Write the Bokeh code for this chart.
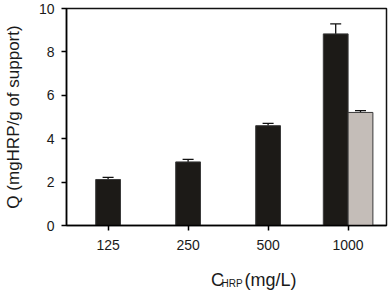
import numpy as np
from bokeh.plotting import figure
from bokeh.layouts import column
from bokeh.models import Range1d, FixedTicker, Whisker, ColumnDataSource, TeeHead
from bokeh.core.properties import value
from bokeh.embed import file_html
from bokeh.resources import INLINE

# ---- data ----
categories = ["125", "250", "500", "1000"]
series_a = [2.12, 2.93, 4.60, 8.83]
series_a_err = [0.10, 0.12, 0.11, 0.46]
series_b = [None, None, None, 5.21]
series_b_err = [None, None, None, 0.08]
y_ticks = [0, 2, 4, 6, 8, 10]
y_label = "Q (mgHRP/g of support)"
x_label_main = "C"
x_label_sub = "HRP"
x_label_unit = "(mg/L)"

FONT = "Liberation Sans"
BAR_W = 0.31
W = 392
H_MAIN = 262
H_LABEL = 28

idx = np.arange(len(categories))
has_b = np.array([v is not None for v in series_b])
off_a = np.where(has_b, -BAR_W / 2, 0.0)

src_a = ColumnDataSource(dict(
    x=idx + off_a,
    top=series_a,
    upper=np.array(series_a) + np.array(series_a_err),
))
b_idx = idx[has_b]
b_vals = np.array([series_b[i] for i in b_idx], dtype=float)
b_errs = np.array([series_b_err[i] for i in b_idx], dtype=float)
src_b = ColumnDataSource(dict(
    x=b_idx + BAR_W / 2,
    top=b_vals,
    upper=b_vals + b_errs,
))

p = figure(width=W, height=H_MAIN, output_backend="svg", toolbar_location=None,
           x_range=Range1d(-0.52, 3.48), y_range=Range1d(0, 10),
           min_border_left=62, min_border_right=6, min_border_top=8, min_border_bottom=37)
p.background_fill_color = "white"
p.border_fill_color = "white"
p.outline_line_color = "#111111"
p.outline_line_width = 1.5
p.grid.visible = False

p.vbar(x="x", top="top", width=BAR_W, source=src_a,
       fill_color="#1c1a17", line_color="#3a3a3a", line_width=1)
p.vbar(x="x", top="top", width=BAR_W, source=src_b,
       fill_color="#c4bdb8", line_color="#3a3a3a", line_width=1)

for src in (src_a, src_b):
    w = Whisker(base="x", lower="top", upper="upper", source=src, dimension="height",
                line_color="#111111", line_width=1.3,
                upper_head=TeeHead(size=11, line_color="#111111", line_width=1.3),
                lower_head=None)
    p.add_layout(w)

# axes
p.yaxis.ticker = FixedTicker(ticks=y_ticks)
p.yaxis.axis_label = y_label
p.yaxis.axis_label_text_font = FONT
p.yaxis.axis_label_text_font_size = "17px"
p.yaxis.axis_label_text_font_style = "normal"
p.yaxis.axis_label_text_color = "#1a1a1a"
p.yaxis.axis_label_standoff = 13
p.yaxis.major_label_text_font = FONT
p.yaxis.major_label_text_font_size = "14px"
p.yaxis.major_label_text_color = "#1a1a1a"
p.yaxis.major_label_standoff = 7
p.yaxis.major_tick_out = 5
p.yaxis.major_tick_in = 0
p.yaxis.minor_tick_line_color = None
p.yaxis.axis_line_width = 1.5
p.yaxis.major_tick_line_width = 1.5

p.xaxis.ticker = FixedTicker(ticks=list(idx))
p.xaxis.major_label_overrides = {int(i): c for i, c in zip(idx, categories)}
p.xaxis.major_label_text_font = FONT
p.xaxis.major_label_text_font_size = "14px"
p.xaxis.major_label_text_color = "#1a1a1a"
p.xaxis.major_label_standoff = 9
p.xaxis.major_tick_out = 5
p.xaxis.major_tick_in = 0
p.xaxis.minor_tick_line_color = None
p.xaxis.axis_line_width = 1.5
p.xaxis.major_tick_line_width = 1.5

# strip below holding the x-axis title with its subscript (pixel-like ranges)
q = figure(width=W, height=H_LABEL, output_backend="svg", toolbar_location=None,
           x_range=Range1d(0, W), y_range=Range1d(0, H_LABEL),
           min_border=0, x_axis_location=None, y_axis_location=None)
q.outline_line_color = None
q.grid.visible = False
q.background_fill_color = "white"
q.border_fill_color = "white"
q.text(x=[177, 218], y=[11, 11], text=[x_label_main, x_label_unit],
       text_font=value(FONT), text_font_size="18px", text_color="#1a1a1a",
       text_baseline="alphabetic", text_align="left")
q.text(x=[190], y=[7], text=[x_label_sub],
       text_font=value(FONT), text_font_size="10px", text_color="#1a1a1a",
       text_baseline="alphabetic", text_align="left")

layout = column(p, q, spacing=0)
open("out.html", "w").write(file_html(layout, INLINE))
